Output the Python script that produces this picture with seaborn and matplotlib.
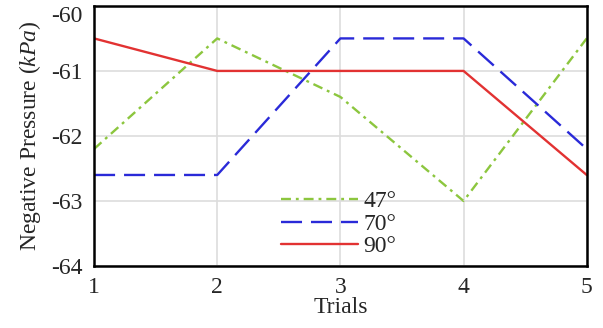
import matplotlib
matplotlib.use("Agg")
import matplotlib.pyplot as plt
import seaborn as sns
import pandas as pd

# data
trials = [1, 2, 3, 4, 5]
p_47 = [-62.2, -60.5, -61.4, -63.0, -60.5]
p_70 = [-62.6, -62.6, -60.5, -60.5, -62.2]
p_90 = [-60.5, -61.0, -61.0, -61.0, -62.6]
angles = ["47°", "70°", "90°"]

sns.set_style("whitegrid")
plt.rcParams["font.family"] = ["Liberation Serif", "DejaVu Serif"]
plt.rcParams["mathtext.fontset"] = "custom"
plt.rcParams["mathtext.it"] = "Liberation Serif:italic"
plt.rcParams["mathtext.rm"] = "Liberation Serif"

df = pd.DataFrame({
    "Trials": trials * 3,
    "Pressure": p_47 + p_70 + p_90,
    "Angle": [a for a in angles for _ in trials],
})

fig, ax = plt.subplots(figsize=(6.03, 3.28), dpi=100)
fig.subplots_adjust(left=0.156, right=0.973, top=0.982, bottom=0.189)

palette = {"47°": "#8cc63e", "70°": "#2a2ad8", "90°": "#e23232"}
sns.lineplot(data=df, x="Trials", y="Pressure", hue="Angle", palette=palette,
             linewidth=1.7, ax=ax, legend=False)
styles = [(0, (4.2, 2.1, 1.2, 2.1)), (0, (8.9, 3.8)), "-"]
for line, ls in zip(ax.get_lines(), styles):
    line.set_linestyle(ls)

ax.set_xlim(1, 5)
ax.set_ylim(-64, -60)
ax.set_xticks(trials)
ax.set_yticks([-64, -63, -62, -61, -60])
ax.set_yticklabels(["-64", "-63", "-62", "-61", "-60"])
ax.tick_params(labelsize=17, length=0)
ax.tick_params(axis="y", pad=8)
ax.tick_params(axis="x", pad=8)
# top label sits inside the figure, like the reference
ax.get_yticklabels()[-1].set_va("top")
ax.grid(True, color="#dddddd", linewidth=1.2)
for s in ax.spines.values():
    s.set_color("black")
    s.set_linewidth(1.8)

ax.set_xlabel("Trials", fontsize=17, labelpad=-1)
ax.set_ylabel("Negative Pressure ($kPa$)", fontsize=17, labelpad=6)

ax.legend(ax.get_lines(), angles, loc="lower left", bbox_to_anchor=(0.345, -0.03),
          frameon=False, fontsize=17, handlelength=3.3, handletextpad=0.2,
          labelspacing=0.04, borderpad=0.2)

fig.savefig("out.png", dpi=100)
